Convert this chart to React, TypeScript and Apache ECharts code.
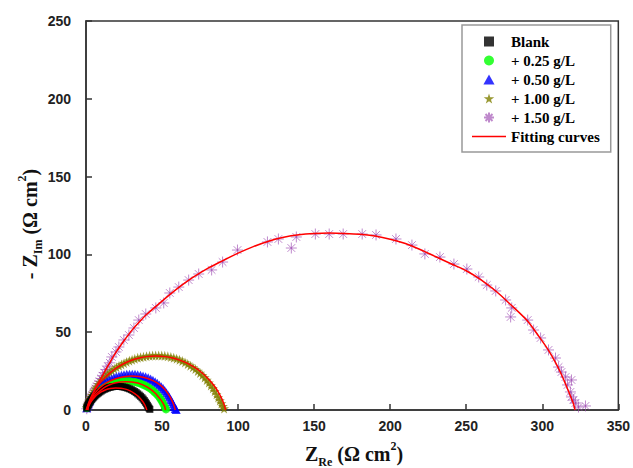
import React, { useEffect, useRef } from "react";
import * as echarts from "echarts";

const legendNames = ["Blank", "+ 0.25 g/L", "+ 0.50 g/L", "+ 1.00 g/L", "+ 1.50 g/L", "Fitting curves"];
const xTicks = [0, 350, 50];
const yTicks = [0, 250, 50];

const blankData = [[0.5,1.2],[0.8,2],[1.2,2.9],[1.6,3.6],[2,4.4],[2.5,5.1],[3,5.9],[3.5,6.6],[4,7.2],[4.6,7.8],[5.2,8.5],[5.9,9.1],[6.6,9.8],[7.4,10.4],[8.2,11],[9.1,11.6],[10,12.2],[11,12.8],[12,13.3],[13,13.7],[14.1,14.1],[15.2,14.5],[16.3,14.7],[17.5,15],[18.7,15.1],[20,15.2],[21.3,15.2],[22.6,15.1],[23.9,14.9],[25.1,14.7],[26.3,14.4],[27.5,14],[28.7,13.6],[29.8,13.1],[30.9,12.5],[32,11.9],[33,11.2],[34,10.4],[35,9.6],[35.9,8.8],[36.8,7.9],[37.6,7],[38.4,6],[39.1,5],[39.8,4],[40.4,3],[41,2],[41.5,1.1],[42,0.4]];
const c025Data = [[0.6,1.3],[1,2.4],[1.5,3.4],[2,4.3],[2.6,5.2],[3.2,6.1],[3.9,7.1],[4.7,8.1],[5.5,9],[6.4,9.9],[7.4,10.9],[8.4,11.8],[9.5,12.7],[10.7,13.6],[12,14.5],[13.3,15.2],[14.7,15.9],[16.1,16.5],[17.6,17],[19.1,17.5],[20.7,17.9],[22.3,18.2],[24,18.4],[25.7,18.5],[27.4,18.5],[29.1,18.4],[30.8,18.2],[32.5,17.9],[34.1,17.5],[35.7,17],[37.2,16.4],[38.7,15.8],[40.1,15],[41.5,14.2],[42.8,13.3],[44.1,12.3],[45.3,11.3],[46.4,10.2],[47.4,9.1],[48.4,7.9],[49.3,6.6],[50.1,5.3],[50.8,4],[51.5,2.7],[52.1,1.4],[52.6,0.4]];
const c050Data = [[0.5,1.5],[1,3],[1.5,4.3],[2,5.4],[2.6,6.5],[3.3,7.8],[4,8.9],[4.8,10],[5.7,11.2],[6.6,12.3],[7.6,13.4],[8.7,14.5],[9.9,15.6],[11.1,16.5],[12.4,17.5],[13.8,18.4],[15.2,19.2],[16.7,20],[18.3,20.7],[19.9,21.3],[21.6,21.9],[23.3,22.3],[25,22.6],[26.8,22.9],[28.6,23],[30.4,23],[32.2,22.9],[34,22.7],[35.8,22.3],[37.5,21.9],[39.2,21.4],[40.9,20.7],[42.5,19.9],[44,19.1],[45.5,18.2],[46.9,17.2],[48.2,16.1],[49.5,15],[50.7,13.8],[51.8,12.5],[52.9,11.1],[53.9,9.7],[54.8,8.3],[55.7,6.8],[56.5,5.3],[57.3,3.8],[58,2.3],[58.7,0.9],[59.3,0.3]];
const c100Data = [[0.5,1.5],[1,3.2],[1.5,4.6],[2,5.8],[2.6,7],[3.2,8.2],[3.9,9.6],[4.7,11],[5.5,12.4],[6.4,13.8],[7.3,15],[8.3,16.4],[9.4,17.8],[10.5,19.1],[11.7,20.4],[13,21.7],[14.3,23],[15.7,24.2],[17.1,25.3],[18.6,26.4],[20.1,27.4],[21.7,28.4],[23.3,29.3],[25,30.1],[26.7,30.9],[28.5,31.7],[30.3,32.3],[32.1,32.9],[34,33.5],[35.9,33.9],[37.8,34.3],[39.8,34.6],[41.8,34.9],[43.8,35],[45.8,35.1],[47.8,35.1],[49.8,35],[51.8,34.8],[53.8,34.5],[55.8,34.1],[57.7,33.6],[59.6,33],[61.5,32.3],[63.3,31.5],[65.1,30.6],[66.9,29.6],[68.6,28.5],[70.3,27.4],[71.9,26.3],[73.5,25.1],[75,23.8],[76.5,22.4],[78,20.9],[79.4,19.3],[80.8,17.6],[82.1,15.8],[83.4,14],[84.6,12.1],[85.8,10.1],[86.9,8.1],[88,6.1],[89,4.2],[90,2.4],[90.8,1]];
const c150Data = [[0.5,0.8],[1,2],[1.5,3.3],[2,4.6],[2.6,5.8],[3.1,7],[3.6,8.3],[4.2,9.6],[4.9,11],[5.6,12.4],[6.3,13.8],[7.1,15.3],[8,16.9],[8.9,18.5],[9.9,20.2],[10.9,22],[12,24],[13.2,26],[14.4,28.2],[15.7,30.3],[17,34.1],[19.7,37.3],[21.6,40.5],[24.9,45],[28.2,48.2],[31.5,52.7],[34.7,57.8],[39.3,61.7],[45.9,65.6],[51.1,68.8],[55.1,75.2],[61,79],[67.5,83.5],[74.1,87.4],[82.6,90],[89.8,95.1],[99.6,102.8],[119.3,108],[126.5,109.9],[135,104.1],[138.3,111.2],[150.8,113.1],[159.9,113.1],[169.1,113.1],[181.6,113.1],[190.7,112.5],[203.8,109.9],[214.3,106],[222.8,100.3],[232.7,98.3],[241.9,93.8],[250.4,90.6],[258.2,85.5],[263.5,80.3],[269.4,76.5],[275.9,70.7],[279.9,65.6],[279.2,59.8],[290.4,57.8],[294.3,51.4],[298.9,46.3],[304.1,38.6],[308.7,33.4],[310.7,27.6],[312.6,24.4],[315.3,21.2],[319.2,19.3],[316.6,16.1],[318.5,11.6],[319.2,8.4],[320.5,6.4],[321.8,4.5],[328.4,2.6],[323.8,1.9]];

const fitBlank = [[1,0],[1.5,2],[2.5,4],[4,6.3],[6,8.6],[8,10.3],[10,11.6],[13,13],[16,13.8],[19.5,14.2],[23,14],[26,13.4],[29,12.3],[32,10.6],[34,9.1],[36,7.1],[37.5,5.2],[38.7,3.2],[39.5,1.4],[40,0]];
const fit025 = [[1,0],[1.6,2.6],[2.6,4.8],[4,7],[6,9.5],[8,11.4],[10,13],[13,15],[16,16.4],[19,17.4],[22.5,18],[26.5,18.2],[30,18],[34,17.3],[37,16.3],[40,14.8],[43,12.9],[45,11.2],[47,9.2],[49,6.8],[50.5,4.5],[51.7,2.2],[52.3,0]];
const fit050 = [[1,0],[1.6,3],[2.6,5.6],[4,8.2],[6,11],[8,13.2],[10,15],[13,17.2],[16,18.8],[20,20.3],[25,21.4],[30,21.8],[35,21.5],[40,20.4],[44,18.9],[47,17.3],[50,15],[52,13],[54,10.4],[55.5,8],[57,5],[58,2.5],[58.6,0]];
const fit100 = [[0.5,0],[1,2.5],[2,5.3],[3.5,8.6],[5,11.4],[7,14.6],[10,18.3],[13,21.4],[16,24],[20,27],[25,29.9],[30,32],[35,33.4],[40,34.3],[46,34.7],[52,34.3],[57,33.4],[62,31.9],[67,29.8],[72,27],[76,24.1],[79,21.4],[82,18.3],[85,14.6],[87,11.5],[89,7.8],[90.3,4.8],[91.3,2],[91.8,0]];
const fit150 = [[0,0],[2,4.5],[4,9.3],[6,13.6],[8,17.2],[10,20.5],[13,26],[16,31],[20,37.5],[25,44.5],[30,51],[35,56.5],[40,61.5],[50,70],[60,78],[70,85],[80,91],[90,96],[100,100.8],[110,105],[120,108.5],[130,111],[140,112.6],[150,113.4],[160,113.7],[170,113.5],[180,113],[190,111.8],[200,109.8],[210,107],[220,103],[230,98.5],[240,94],[250,89.5],[260,83.5],[270,76],[280,67],[290,57.5],[298,47],[304,38.5],[309,30],[313,22],[316,15],[318.5,9],[320.5,4],[321.5,0]];

const STAR = "path://M50,0L61,35L98,35L68,57L79,91L50,70L21,91L32,57L2,35L39,35Z";
const ASTER = "path://M0,10L20,10M10,0L10,20M3,3L17,17M17,3L3,17";
const SQUARE = "path://M0,0L10,0L10,10L0,10Z";
const TRI = "path://M5,0L10,9L0,9Z";
const LINE = "path://M0,0L40,0L40,2L0,2Z";

export default function App() {
  const ref = useRef<HTMLDivElement>(null);
  useEffect(() => {
    if (!ref.current) return;
    const chart = echarts.init(ref.current, undefined, { renderer: "svg" });
    const labelStyle = { color: "#222", fontSize: 14, fontWeight: "bold", fontFamily: "Liberation Sans, Arial, sans-serif" };
    const axisCommon = {
      type: "value",
      axisLine: { show: true, lineStyle: { color: "#333", width: 1.5 } },
      axisTick: { show: true, inside: true, length: 6, lineStyle: { color: "#333", width: 1.5 } },
      splitLine: { show: false },
    };
    const serif = "Liberation Serif, Times New Roman, serif";
    const rich = {
      t: { fontSize: 20, fontWeight: "bold", fontFamily: serif, lineHeight: 28, fill: "#111" },
      z: { fontSize: 20, fontWeight: "bold", fontFamily: serif, lineHeight: 28, fill: "#111" },
      sub: { fontSize: 12, fontWeight: "bold", fontFamily: serif, lineHeight: 12, verticalAlign: "bottom", fill: "#111" },
      sup: { fontSize: 12, fontWeight: "bold", fontFamily: serif, lineHeight: 12, verticalAlign: "top", fill: "#111" },
    };
    const fitSeries = [fitBlank, fit025, fit050, fit100, fit150].map((d) => ({
      type: "line",
      name: legendNames[5],
      data: d,
      symbol: "none",
      smooth: 0.3,
      lineStyle: { color: "#ff0000", width: 1.5 },
      itemStyle: { color: "#ff0000" },
      z: 5,
    }));
    chart.setOption({
      animation: false,
      backgroundColor: "#fff",
      grid: { left: 86, right: 13, top: 21, bottom: 58, show: true, borderColor: "#333", borderWidth: 1.5 },
      xAxis: { ...axisCommon, min: xTicks[0], max: xTicks[1], interval: xTicks[2], axisLabel: { ...labelStyle, margin: 9 } },
      yAxis: { ...axisCommon, min: yTicks[0], max: yTicks[1], interval: yTicks[2], axisLabel: { ...labelStyle, margin: 15 } },
      legend: {
        orient: "vertical",
        left: 462,
        top: 25,
        padding: [9, 11, 8, 10],
        backgroundColor: "#fff",
        borderColor: "#999",
        borderWidth: 1.5,
        borderRadius: 0,
        itemWidth: 34,
        itemHeight: 10,
        itemGap: 4,
        symbolKeepAspect: true,
        textStyle: { fontSize: 15, fontWeight: "bold", fontFamily: serif, color: "#000" },
        data: [
          { name: legendNames[0], icon: SQUARE },
          { name: legendNames[1], icon: "circle" },
          { name: legendNames[2], icon: TRI },
          { name: legendNames[3], icon: STAR },
          { name: legendNames[4], icon: ASTER },
          { name: legendNames[5], icon: LINE },
        ],
      },
      series: [
        { type: "scatter", name: legendNames[4], data: c150Data, symbol: ASTER, symbolSize: 11,
          itemStyle: { color: "rgba(0,0,0,0)", borderColor: "rgba(155,70,175,0.8)", borderWidth: 1 }, z: 2 },
        { type: "scatter", name: legendNames[3], data: c100Data, symbol: STAR, symbolSize: 10, itemStyle: { color: "#808000" }, z: 2 },
        { type: "scatter", name: legendNames[2], data: c050Data, symbol: "triangle", symbolSize: 9, itemStyle: { color: "#0000ff" }, z: 2 },
        { type: "scatter", name: legendNames[1], data: c025Data, symbol: "circle", symbolSize: 8, itemStyle: { color: "#00ff00" }, z: 2 },
        { type: "scatter", name: legendNames[0], data: blankData, symbol: "rect", symbolSize: 7, itemStyle: { color: "#000" }, z: 2 },
        ...fitSeries,
      ],
      graphic: [
        { type: "text", x: 354, y: 454, style: { text: "{z|Z}{sub|Re}{t| (Ω cm}{sup|2}{t|)}", rich, align: "center", verticalAlign: "middle" } },
        { type: "text", x: 30, y: 224, rotation: Math.PI / 2, style: { text: "{t|- }{z|Z}{sub|Im}{t| (Ω cm}{sup|2}{t|)}", rich, align: "center", verticalAlign: "middle" } },
      ],
    });
    return () => chart.dispose();
  }, []);
  return <div ref={ref} style={{ width: 633, height: 468, position: "absolute", left: 0, top: 0 }} />;
}
